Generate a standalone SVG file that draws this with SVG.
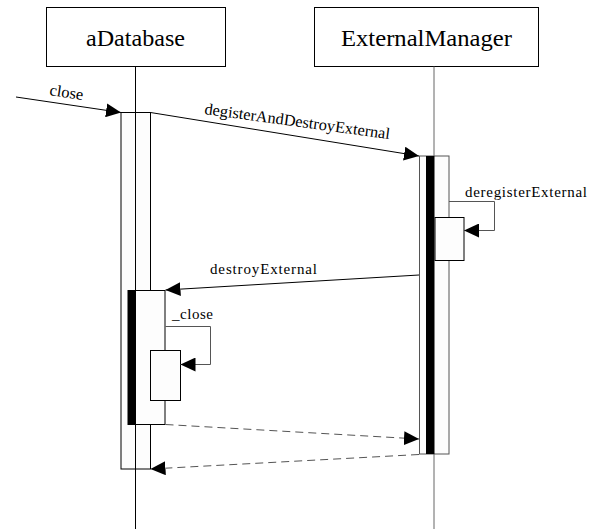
<svg xmlns="http://www.w3.org/2000/svg" width="596" height="529" viewBox="0 0 596 529">
<style>
.box{fill:#fff;stroke:#000;stroke-width:1}
.act{fill:#fdfdfd;stroke:#000;stroke-width:1}
.actg{fill:#fdfdfd;stroke:#555;stroke-width:1}
.bar{fill:#000;stroke:none}
.life{stroke:#000;stroke-width:1;fill:none}
.lifeg{stroke:#666;stroke-width:1;fill:none}
.msg{stroke:#000;stroke-width:1;fill:none;marker-end:url(#ah)}
.self{stroke:#555;stroke-width:1;fill:none;marker-end:url(#ah)}
.ret{stroke:#555;stroke-width:1;fill:none;stroke-dasharray:8,5;marker-end:url(#ah)}
text{font-family:"Liberation Serif","Times New Roman","DejaVu Serif",serif;fill:#000}
.title{font-size:24px;text-anchor:middle}
.lbl{font-size:15px}
.rl{font-size:16px}
</style>
<defs>
<marker id="ah" markerUnits="userSpaceOnUse" markerWidth="15" markerHeight="14" refX="15" refY="7" orient="auto">
<path d="M0,0 L15,7 L0,14 z" fill="#000"/>
</marker>
</defs>
<rect width="596" height="529" fill="#fff"/>
<g id="aDatabase">
<rect class="box" x="46.5" y="7.5" width="179" height="59"/>
<text class="title" x="135.5" y="46" textLength="99" lengthAdjust="spacingAndGlyphs">aDatabase</text>
<line class="life" x1="135.5" y1="66.5" x2="135.5" y2="529"/>
<rect class="act" x="121" y="112.5" width="29.5" height="356.5"/>
<rect class="act" x="128" y="290.5" width="37" height="134"/>
<rect class="bar" x="128" y="290.5" width="8" height="134"/>
<rect class="act" x="150.5" y="350.5" width="30" height="50"/>
<line class="life" x1="135.5" y1="112" x2="135.5" y2="529"/>
</g>
<g id="ExternalManager">
<rect class="box" x="314.5" y="7.5" width="224" height="59"/>
<text class="title" x="426.5" y="46" textLength="171" lengthAdjust="spacingAndGlyphs">ExternalManager</text>
<line class="lifeg" x1="434" y1="66.5" x2="434" y2="529"/>
<rect class="actg" x="419.5" y="156" width="29.5" height="298"/>
<rect class="bar" x="426" y="156" width="8.5" height="298"/>
<rect class="act" x="435" y="217.5" width="29" height="43"/>
</g>
<g id="connectors">
<line class="msg" x1="16" y1="97" x2="121" y2="112.5"/>
<text class="rl" x="49" y="95" transform="rotate(8.5 49 95)" textLength="34" lengthAdjust="spacingAndGlyphs">close</text>
<line class="msg" x1="150.5" y1="112.5" x2="419" y2="156"/>
<text class="rl" x="204" y="114" transform="rotate(7.7 204 114)" textLength="187" lengthAdjust="spacingAndGlyphs">degisterAndDestroyExternal</text>
<polyline class="self" points="449,201.5 494.5,201.5 494.5,230.5 464,230.5"/>
<text class="lbl" x="465" y="197" textLength="122" lengthAdjust="spacing">deregisterExternal</text>
<line class="msg" x1="419" y1="275" x2="165.5" y2="290"/>
<text class="lbl" x="210" y="274" textLength="107" lengthAdjust="spacing">destroyExternal</text>
<polyline class="self" points="165.5,326.5 210.5,326.5 210.5,364.5 180.5,364.5"/>
<text class="lbl" x="172" y="319" textLength="41" lengthAdjust="spacing">_close</text>
<line class="ret" x1="165.5" y1="424.5" x2="419" y2="439"/>
<line class="ret" x1="419" y1="454.5" x2="150.5" y2="469"/>
</g>
</svg>
